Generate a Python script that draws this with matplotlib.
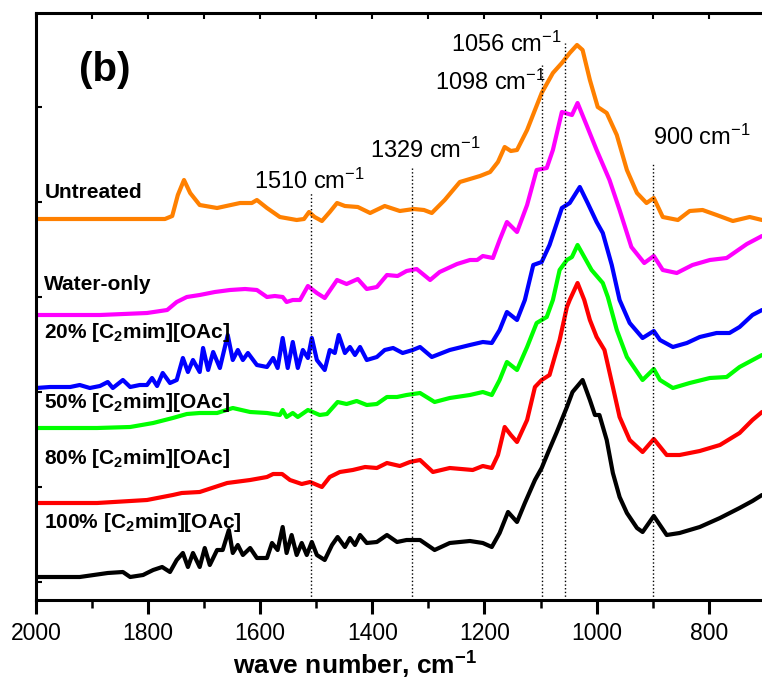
import numpy as np
import matplotlib
matplotlib.use('Agg')
import matplotlib.pyplot as plt

plt.rcParams['font.family'] = ['Liberation Sans', 'DejaVu Sans']
plt.rcParams['mathtext.default'] = 'regular'

# wavenumbers (cm-1) and stacked absorbance (arbitrary, offset) for each spectrum
wn_untreated = [2000, 1886, 1770, 1757, 1747, 1736, 1725, 1708, 1677, 1636, 1615, 1606, 1588, 1565, 1535, 1522,
                1513, 1503, 1490, 1476, 1463, 1449, 1426, 1404, 1378, 1351, 1326, 1308, 1294, 1271, 1244, 1208,
                1190, 1176, 1164, 1153, 1142, 1124, 1110, 1098, 1078, 1062, 1048, 1035, 1025, 1012, 998, 982,
                964, 946, 928, 911, 898, 882, 855, 834, 811, 786, 757, 727, 705]
ab_untreated = [381, 381, 381, 384, 405, 420, 407, 395, 392, 397, 397, 400, 392, 383, 380, 381,
                388, 383, 379, 388, 397, 394, 393, 387, 394, 389, 391, 390, 387, 400, 418, 424,
                428, 438, 453, 449, 450, 470, 490, 507, 527, 537, 547, 555, 550, 520, 493, 487,
                465, 430, 407, 397, 402, 383, 380, 389, 390, 385, 379, 383, 380]

wn_water = [2000, 1886, 1802, 1766, 1749, 1731, 1708, 1681, 1654, 1627, 1606, 1588, 1574, 1560, 1553, 1542,
            1529, 1515, 1499, 1485, 1463, 1446, 1426, 1410, 1392, 1374, 1355, 1339, 1321, 1297, 1280, 1249,
            1226, 1213, 1203, 1185, 1173, 1160, 1142, 1124, 1107, 1089, 1078, 1062, 1044, 1034, 1018, 1000,
            977, 959, 938, 915, 898, 882, 857, 829, 798, 768, 732, 705]
ab_water = [285, 285, 287, 290, 298, 303, 305, 308, 310, 311, 310, 303, 304, 303, 298, 300,
            300, 314, 307, 302, 320, 316, 321, 311, 313, 325, 324, 329, 331, 320, 328, 336,
            340, 340, 344, 342, 360, 378, 368, 395, 430, 432, 450, 488, 485, 497, 475, 450,
            420, 390, 353, 337, 344, 330, 327, 335, 340, 342, 356, 364]

wn_20 = [2000, 1975, 1939, 1922, 1904, 1886, 1872, 1863, 1845, 1832, 1815, 1802, 1793, 1784, 1774, 1761,
         1749, 1738, 1729, 1720, 1708, 1702, 1693, 1684, 1672, 1658, 1649, 1640, 1631, 1622, 1606, 1588,
         1577, 1569, 1560, 1551, 1542, 1533, 1524, 1515, 1508, 1499, 1485, 1476, 1467, 1460, 1449, 1440,
         1431, 1422, 1410, 1392, 1378, 1363, 1346, 1328, 1315, 1294, 1262, 1226, 1203, 1187, 1173, 1160,
         1142, 1128, 1113, 1098, 1084, 1062, 1048, 1030, 1016, 1000, 989, 973, 959, 941, 918, 898,
         887, 864, 839, 816, 786, 763, 745, 722, 705]
ab_20 = [212, 213, 213, 215, 212, 214, 218, 212, 220, 213, 215, 215, 222, 214, 227, 217,
         220, 242, 228, 240, 228, 252, 230, 248, 232, 265, 240, 250, 240, 247, 235, 233,
         242, 232, 262, 232, 258, 232, 250, 242, 262, 240, 230, 250, 247, 265, 247, 253,
         245, 253, 240, 243, 250, 252, 247, 250, 253, 243, 250, 255, 258, 257, 270, 288,
         280, 300, 335, 338, 355, 392, 397, 413, 397, 378, 367, 335, 300, 277, 262, 269,
         260, 253, 257, 263, 267, 267, 273, 285, 290]

wn_50 = [2000, 1891, 1832, 1791, 1756, 1731, 1708, 1677, 1649, 1618, 1588, 1565, 1560, 1553, 1542, 1533,
         1515, 1494, 1481, 1462, 1446, 1428, 1410, 1392, 1374, 1356, 1339, 1315, 1289, 1262, 1226, 1203,
         1187, 1173, 1160, 1142, 1124, 1107, 1089, 1078, 1066, 1053, 1044, 1034, 1022, 1009, 989, 980,
         964, 946, 918, 898, 887, 864, 834, 798, 768, 745, 705]
ab_50 = [172, 172, 173, 177, 182, 186, 187, 187, 192, 188, 187, 185, 190, 183, 187, 183,
         190, 185, 186, 198, 196, 199, 195, 196, 203, 203, 205, 207, 198, 202, 205, 208,
         205, 220, 238, 230, 253, 277, 283, 300, 330, 340, 343, 355, 343, 330, 317, 303,
         270, 243, 220, 231, 220, 212, 217, 222, 223, 233, 245]

wn_80 = [2000, 1891, 1802, 1756, 1740, 1708, 1659, 1618, 1588, 1577, 1561, 1547, 1526, 1511, 1490, 1476,
         1458, 1435, 1413, 1392, 1374, 1351, 1333, 1315, 1292, 1262, 1221, 1203, 1187, 1176, 1164, 1153,
         1142, 1124, 1110, 1098, 1084, 1066, 1053, 1048, 1034, 1022, 1012, 1000, 986, 971, 959, 941,
         918, 898, 875, 852, 816, 780, 745, 722, 705]
ab_80 = [97, 97, 100, 105, 107, 108, 117, 120, 123, 126, 126, 120, 116, 118, 113, 123,
         128, 130, 133, 132, 137, 134, 138, 140, 128, 132, 130, 134, 132, 145, 173, 165,
         158, 180, 213, 220, 225, 260, 293, 300, 317, 300, 280, 263, 250, 213, 183, 160,
         148, 161, 145, 145, 149, 155, 167, 180, 188]

wn_100 = [2000, 1922, 1872, 1845, 1832, 1809, 1802, 1791, 1775, 1761, 1749, 1738, 1729, 1720, 1708, 1699,
          1690, 1677, 1667, 1656, 1649, 1640, 1631, 1618, 1606, 1588, 1579, 1569, 1560, 1553, 1544, 1535,
          1526, 1517, 1508, 1499, 1485, 1472, 1462, 1449, 1440, 1431, 1422, 1410, 1392, 1374, 1356, 1339,
          1315, 1289, 1262, 1226, 1203, 1187, 1173, 1158, 1142, 1128, 1110, 1098, 1087, 1071, 1053, 1043,
          1025, 1012, 1003, 995, 982, 971, 959, 946, 928, 918, 898, 875, 852, 816, 780, 745, 722, 705]
ab_100 = [23, 23, 27, 28, 23, 25, 27, 30, 33, 28, 40, 47, 33, 47, 33, 52,
          35, 50, 50, 70, 47, 55, 45, 52, 42, 42, 57, 50, 73, 47, 65, 45,
          57, 45, 58, 45, 40, 55, 63, 53, 62, 55, 65, 57, 58, 65, 58, 60,
          60, 50, 57, 59, 57, 53, 67, 88, 78, 97, 120, 132, 147, 168, 193, 208,
          220, 200, 185, 185, 160, 127, 103, 87, 72, 68, 84, 65, 67, 73, 82, 92, 99, 105]

series = [
    (wn_untreated, ab_untreated, '#ff8000'),
    (wn_water, ab_water, '#ff00ff'),
    (wn_20, ab_20, '#0000ff'),
    (wn_50, ab_50, '#00ff00'),
    (wn_80, ab_80, '#ff0000'),
    (wn_100, ab_100, '#000000'),
]

labels = ['Untreated', 'Water-only', '20% [C$_2$mim][OAc]', '50% [C$_2$mim][OAc]',
          '80% [C$_2$mim][OAc]', '100% [C$_2$mim][OAc]']
label_y = [408, 316, 267, 198, 142, 78]

marker_wn = [1510, 1329, 1098, 1056, 900]
marker_top = [408, 432, 535, 557, 438]
marker_text = ['1510 cm$^{-1}$', '1329 cm$^{-1}$', '1098 cm$^{-1}$', '1056 cm$^{-1}$', '900 cm$^{-1}$']
marker_text_pos = [(1611, 411), (1404, 442), (1289, 510), (1260, 548), (900, 455)]

fig = plt.figure(figsize=(7.62, 6.85), dpi=100)
ax = fig.add_axes([36 / 762, 85 / 685, 1 - 36 / 762, 587 / 685])

for wn, ab, c in series:
    ax.plot(wn, ab, color=c, lw=3, solid_joinstyle='round', solid_capstyle='round')

for w, top in zip(marker_wn, marker_top):
    ax.plot([w, w], [0, top], color='k', ls=':', lw=1)

for txt, (x, y) in zip(marker_text, marker_text_pos):
    ax.text(x, y, txt, fontsize=17, ha='left', va='baseline')

for txt, y in zip(labels, label_y):
    ax.text(1985, y, txt, fontsize=15, fontweight='bold', ha='left', va='center')

ax.text(1877, 530, '(b)', fontsize=29, fontweight='bold', ha='center', va='center')

ax.set_xlim(2000, 705)
ax.set_ylim(0, 587)
ax.spines['right'].set_visible(False)
for s in ['left', 'bottom', 'top']:
    ax.spines[s].set_linewidth(2.2)

ax.set_xticks([2000, 1800, 1600, 1400, 1200, 1000, 800])
ax.set_xticks(np.arange(1900, 700, -200), minor=True)
ax.tick_params(axis='x', which='major', direction='out', length=10, width=2.2, labelsize=16.5, pad=6)
ax.tick_params(axis='x', which='minor', direction='out', length=6, width=1.8)
ax.set_yticks(np.arange(18, 587, 95))
ax.tick_params(axis='y', direction='in', length=4, width=1.5, labelleft=False)

top = ax.secondary_xaxis('top')
top.set_xticks(np.arange(2000, 700, -100))
top.tick_params(direction='in', length=4, width=1.5, labeltop=False)

fig.text(355 / 762, 20 / 685, 'wave number, cm$^{-1}$', fontsize=19, fontweight='bold',
         ha='center', va='center')

fig.savefig('out.png', dpi=100)
